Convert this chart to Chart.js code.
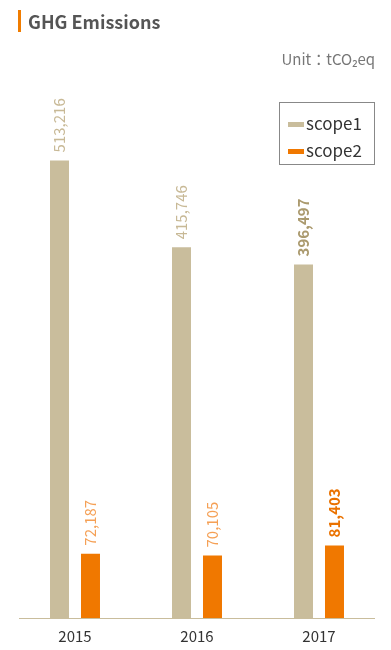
<!DOCTYPE html>
<html>
<head>
<meta charset="utf-8">
<script src="https://cdn.jsdelivr.net/npm/chart.js@4/dist/chart.umd.min.js"></script>
<style>
  html, body { margin: 0; padding: 0; background: #fff; width: 391px; height: 650px; overflow: hidden; }
  body { position: relative; font-family: "Noto Sans CJK KR", "Noto Sans", sans-serif; }
  #wrap { position: absolute; left: 0; top: 0; width: 391px; height: 654px; }
  #title { position: absolute; left: 18px; top: 10px; height: 22px; line-height: 22px; padding-left: 7px;
           border-left: 3px solid #f07c00; font-size: 18px; font-weight: 700; color: #555; }
  #unit { position: absolute; right: 16px; top: 48px; font-size: 15px; color: #777; }
  #legend { position: absolute; left: 279px; top: 102px; width: 96px; height: 63px; border: 1px solid #888; box-sizing: border-box; }
  .li { position: absolute; left: 8px; font-size: 17px; color: #333; line-height: 22px; white-space: nowrap; }
  .sw { display: inline-block; width: 16px; height: 5px; vertical-align: middle; margin-right: 2px; position: relative; top: -1px; }
</style>
</head>
<body>
<div id="wrap"><canvas id="c" width="391" height="654"></canvas></div>
<div id="title">GHG Emissions</div>
<div id="unit">Unit：tCO₂eq</div>
<div id="legend"></div>
<script>
const categories = ['2015', '2016', '2017'];
const seriesNames = ['scope1', 'scope2'];
const scope1 = [513216, 415746, 396497];
const scope2 = [72187, 70105, 81403];

const barColors = ['#c9bd9c', '#f07800'];
const labelColors = ['#c8b996', '#f5a055'];
const labelStrongColors = ['#ab9a6e', '#ea7200'];
const highlightCategory = '2017';

const legend = document.getElementById('legend');
seriesNames.forEach((n, i) => {
  const d = document.createElement('div');
  d.className = 'li';
  d.style.top = (9 + i * 27) + 'px';
  d.innerHTML = '<span class="sw" style="background:' + barColors[i] + '"></span>' + n;
  legend.appendChild(d);
});

const valueLabels = {
  id: 'valueLabels',
  afterDatasetsDraw(chart) {
    const ctx = chart.ctx;
    chart.data.datasets.forEach((ds, di) => {
      const meta = chart.getDatasetMeta(di);
      meta.data.forEach((bar, i) => {
        const strong = chart.data.labels[i] === highlightCategory;
        ctx.save();
        ctx.translate(bar.x, bar.y - 8);
        ctx.rotate(-Math.PI / 2);
        ctx.font = (strong ? '700 ' : '400 ') + '15px "Noto Sans CJK KR", "Noto Sans", sans-serif';
        ctx.fillStyle = strong ? labelStrongColors[di] : labelColors[di];
        ctx.textAlign = 'left';
        ctx.textBaseline = 'middle';
        ctx.fillText(ds.data[i].toLocaleString('en-US'), 0, 0);
        ctx.restore();
      });
    });
  },
  beforeDatasetsDraw(chart) {
    const ctx = chart.ctx;
    const y = chart.chartArea.bottom + 0.5;
    ctx.save();
    ctx.strokeStyle = '#c9bd9c';
    ctx.lineWidth = 1;
    ctx.beginPath();
    ctx.moveTo(19, y);
    ctx.lineTo(375, y);
    ctx.stroke();
    ctx.restore();
  }
};

new Chart(document.getElementById('c'), {
  type: 'bar',
  data: {
    labels: categories,
    datasets: [
      { label: seriesNames[0], data: scope1, backgroundColor: barColors[0] },
      { label: seriesNames[1], data: scope2, backgroundColor: barColors[1] }
    ]
  },
  options: {
    responsive: false,
    animation: false,
    events: [],
    layout: { padding: { left: 14, right: 11, top: 83, bottom: 0 } },
    datasets: { bar: { categoryPercentage: 0.508, barPercentage: 0.613 } },
    plugins: { legend: { display: false }, tooltip: { enabled: false } },
    scales: {
      x: {
        grid: { display: false, drawTicks: false },
        border: { display: false },
        ticks: { color: '#333', font: { size: 15, family: '"Noto Sans CJK KR", "Noto Sans", sans-serif' }, padding: 9 }
      },
      y: { display: false, min: 0, max: 600000 }
    }
  },
  plugins: [valueLabels]
});
</script>
</body>
</html>
